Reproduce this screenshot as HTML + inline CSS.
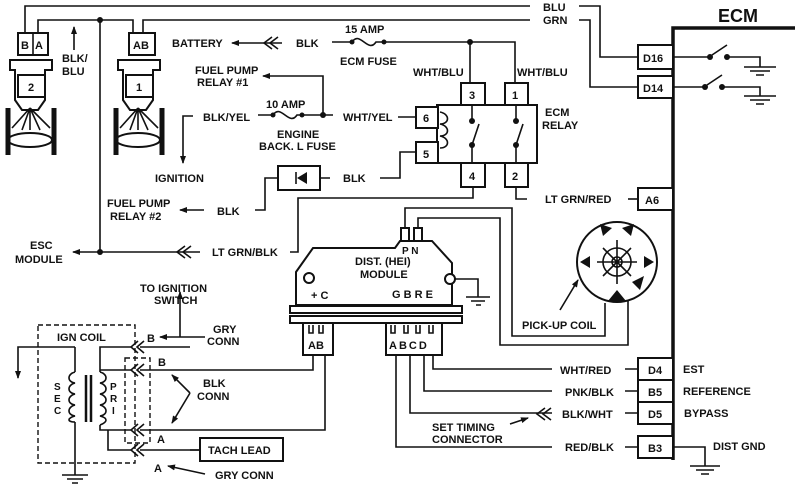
<!DOCTYPE html>
<html><head><meta charset="utf-8"><style>
html,body{margin:0;padding:0;background:#fff}
svg{display:block}
text{font-family:"Liberation Sans",sans-serif;font-weight:bold;font-size:11px;fill:#111}
.w{fill:none;stroke:#111;stroke-width:1.6}
.b{fill:#fff;stroke:#111;stroke-width:2}
.d{fill:none;stroke:#111;stroke-width:1.4;stroke-dasharray:5 3}
</style></head><body>
<svg width="800" height="490" viewBox="0 0 800 490" xmlns="http://www.w3.org/2000/svg">
<defs>
<marker id="ar" markerWidth="8" markerHeight="8" refX="7" refY="4" orient="auto" markerUnits="userSpaceOnUse"><path d="M0,1 L8,4 L0,7 Z" fill="#111"/></marker>
</defs>
<!-- top wires -->
<path class="w" d="M25,33 V6 H530 M579,6 H600 V57 H638"/>
<path class="w" d="M38,33 V20 H133 V33 M143,33 V20 H530 M579,20 H590 V87 H638"/>
<circle cx="100" cy="20" r="3" fill="#111"/>
<path class="w" d="M100,20 V252"/>
<text x="543" y="11">BLU</text><text x="543" y="24">GRN</text>
<!-- ECM -->
<path d="M673,460 V28 H795" fill="none" stroke="#111" stroke-width="3.5"/>
<text x="718" y="22" style="font-size:18px">ECM</text>
<rect class="b" x="638" y="45" width="35" height="24"/><text x="643" y="62">D16</text>
<rect class="b" x="638" y="76" width="35" height="22"/><text x="643" y="92">D14</text>
<path class="w" d="M673,57 H710 M712,55 L727,45 M727,57 H760 V67 M744,67 H776 M750,71 H770 M756,75 H764"/>
<circle cx="710" cy="57" r="3" fill="#111"/><circle cx="727" cy="57" r="3" fill="#111"/>
<path class="w" d="M673,87 H705 M707,85 L722,75 M722,87 H760 V96 M744,96 H776 M750,100 H770 M756,104 H764"/>
<circle cx="705" cy="87" r="3" fill="#111"/><circle cx="722" cy="87" r="3" fill="#111"/>
<!-- injectors -->
<g>
<rect class="b" x="18" y="33" width="30" height="22"/><path class="w" d="M33,33 V55"/>
<text x="21" y="49">B</text><text x="35" y="49">A</text>
<path class="b" d="M10,60 H52 V70 H45 V100 L38,110 H22 L15,100 V70 H10 Z"/>
<rect class="b" x="18" y="75" width="27" height="22"/><text x="28" y="91">2</text>
<path class="w" d="M30,108 L12,128 M30,108 L50,128 M30,108 L30,130 M30,108 L22,130 M30,108 L40,130"/>
<ellipse class="b" cx="30" cy="140" rx="22" ry="7"/>
<path d="M8,108 V155 M54,108 V155" stroke="#111" stroke-width="5"/>
</g>
<g transform="translate(105,0)">
<rect class="b" x="24" y="33" width="26" height="22"/><text x="28" y="49">AB</text>
<path class="b" d="M13,60 H55 V70 H48 V100 L41,110 H25 L18,100 V70 H13 Z"/>
<rect class="b" x="21" y="75" width="27" height="22"/><text x="31" y="91">1</text>
<path class="w" d="M33,108 L15,128 M33,108 L53,128 M33,108 L33,130 M33,108 L25,130 M33,108 L43,130"/>
<ellipse class="b" cx="33" cy="140" rx="22" ry="7"/>
<path d="M11,108 V155 M57,108 V155" stroke="#111" stroke-width="5"/>
</g>
<path class="w" d="M74,50 V27" marker-end="url(#ar)"/>
<text x="62" y="62">BLK/</text><text x="62" y="75">BLU</text>
<!-- battery / ecm fuse -->
<text x="172" y="47">BATTERY</text>
<path class="w" d="M282,43 H232" marker-end="url(#ar)"/>
<path class="w" d="M272,37 L264,43 L272,49 M278,37 L270,43 L278,49"/>
<text x="296" y="47">BLK</text>
<path class="w" d="M332,42 H352 C360,30 368,54 376,42 H470 H515 V83"/>
<circle cx="352" cy="42" r="2.5" fill="#111"/><circle cx="384" cy="42" r="2.5" fill="#111"/>
<circle cx="470" cy="42" r="3" fill="#111"/>
<path class="w" d="M470,42 V83"/>
<text x="345" y="33">15 AMP</text><text x="340" y="65">ECM FUSE</text>
<text x="413" y="76">WHT/BLU</text><text x="517" y="76">WHT/BLU</text>
<!-- relay -->
<rect class="b" x="437" y="105" width="100" height="58"/>
<rect class="b" x="461" y="83" width="24" height="22"/><text x="469" y="99">3</text>
<rect class="b" x="505" y="83" width="23" height="22"/><text x="512" y="99">1</text>
<rect class="b" x="416" y="107" width="22" height="21"/><text x="423" y="122">6</text>
<rect class="b" x="416" y="142" width="22" height="21"/><text x="423" y="158">5</text>
<rect class="b" x="461" y="163" width="24" height="24"/><text x="469" y="180">4</text>
<rect class="b" x="505" y="163" width="23" height="24"/><text x="512" y="180">2</text>
<path class="w" d="M440,112 C450,114 450,124 440,124 C450,126 450,136 440,136 C450,138 450,148 440,148"/>
<path class="w" d="M472,105 V121 M472,146 V163 M472,145 L479,124 M516,105 V121 M516,146 V163 M516,145 L523,124"/>
<circle cx="472" cy="121" r="3" fill="#111"/><circle cx="472" cy="145" r="3" fill="#111"/>
<circle cx="516" cy="121" r="3" fill="#111"/><circle cx="516" cy="145" r="3" fill="#111"/>
<text x="545" y="116">ECM</text><text x="542" y="129">RELAY</text>
<!-- fuel pump relay 1 / engine fuse -->
<text x="195" y="74">FUEL PUMP</text><text x="197" y="86">RELAY #1</text>
<path class="w" d="M323,115 V76 H263" marker-end="url(#ar)"/>
<text x="266" y="108">10 AMP</text>
<path class="w" d="M258,115 H273 C281,103 289,127 297,115 H323 H333"/>
<circle cx="273" cy="115" r="2.5" fill="#111"/><circle cx="302" cy="115" r="2.5" fill="#111"/><circle cx="323" cy="115" r="3" fill="#111"/>
<text x="203" y="121">BLK/YEL</text>
<text x="343" y="121">WHT/YEL</text>
<path class="w" d="M398,117 H416"/>
<text x="277" y="138">ENGINE</text><text x="259" y="150">BACK. L FUSE</text>
<path class="w" d="M193,116 H183 V163" marker-end="url(#ar)"/>
<text x="155" y="182">IGNITION</text>
<!-- diode -->
<path class="w" d="M416,152 H400 V178 H380"/>
<text x="343" y="182">BLK</text>
<rect class="b" x="278" y="166" width="42" height="24"/>
<path class="w" d="M320,178 H330 M278,178 H265 V210 H255"/>
<path d="M307,172 V184 L297,178 Z" fill="#111"/><path class="w" d="M296,172 V184"/>
<text x="217" y="215">BLK</text>
<path class="w" d="M204,210 H180" marker-end="url(#ar)"/>
<text x="107" y="207">FUEL PUMP</text><text x="110" y="220">RELAY #2</text>
<!-- pin 4 / pin 2 -->
<path class="w" d="M473,187 V198 H298 V252 H290"/>
<path class="w" d="M516,187 V199 H527"/>
<text x="545" y="203">LT GRN/RED</text>
<path class="w" d="M628,199 H638"/>
<rect class="b" x="638" y="188" width="35" height="22"/><text x="645" y="204">A6</text>
<!-- LT GRN/BLK -->
<text x="212" y="256">LT GRN/BLK</text>
<path class="w" d="M200,252 H100 H73" marker-end="url(#ar)"/>
<path class="w" d="M185,246 L177,252 L185,258 M191,246 L183,252 L191,258"/>
<circle cx="100" cy="252" r="3" fill="#111"/>
<text x="30" y="249">ESC</text><text x="15" y="263">MODULE</text>
<!-- HEI module -->
<path class="w" d="M405,228 V208 H512 V336 H605 V303"/>
<path class="w" d="M418,228 V218 H500 V345 H628 V296"/>
<path class="b" d="M296,305 V272 L313,248 H395 L400,241 H432 L452,263 V305 Z"/>
<rect class="b" x="401" y="228" width="8" height="13"/><rect class="b" x="414" y="228" width="8" height="13"/>
<text x="402" y="254" style="font-size:10px">P N</text>
<text x="355" y="265">DIST. (HEI)</text><text x="360" y="278">MODULE</text>
<circle class="b" cx="309" cy="278" r="5"/><circle class="b" cx="450" cy="279" r="5"/>
<path class="w" d="M455,279 H478 V297 M466,297 H490 M471,301 H485 M476,305 H481"/>
<text x="311" y="299">+ C</text><text x="392" y="298">G B R E</text>
<rect class="b" x="290" y="306" width="172" height="7"/>
<rect class="b" x="290" y="316" width="172" height="7"/>
<rect class="b" x="303" y="323" width="30" height="32"/><text x="308" y="349">AB</text>
<rect class="b" x="386" y="323" width="56" height="32"/><text x="389" y="349" style="letter-spacing:2px">ABCD</text>
<path class="w" d="M309,325 v8 h4 v-8 M319,325 v8 h4 v-8 M391,325 v8 h4 v-8 M404,325 v8 h4 v-8 M416,325 v8 h4 v-8 M429,325 v8 h4 v-8"/>
<!-- pickup coil -->
<circle class="b" cx="617" cy="262" r="40" stroke-width="2.5"/>
<path d="M600,224 L612,228 L603,236 Z M634,224 L622,228 L631,236 Z M580,262 L590,256 L590,268 Z M654,262 L644,256 L644,268 Z M608,301 L626,301 L617,290 Z M640,290 L644,276 L632,282 Z" fill="#111"/>
<circle class="w" cx="617" cy="262" r="14"/><circle class="w" cx="617" cy="262" r="5"/>
<path class="w" d="M617,240 V284 M597,262 H637 M603,248 L631,276 M631,248 L603,276"/>
<text x="522" y="329">PICK-UP COIL</text>
<path class="w" d="M560,310 L578,280" marker-end="url(#ar)"/>
<!-- ABCD wires to ECM -->
<path class="w" d="M433,355 V369 H552 M424,355 V391 H552 M410,355 V413 H552 M396,355 V447 H552"/>
<path class="w" d="M545,408 L537,414 L545,420 M551,408 L543,414 L551,420"/>
<text x="560" y="374">WHT/RED</text><text x="565" y="396">PNK/BLK</text>
<text x="562" y="418">BLK/WHT</text><text x="565" y="451">RED/BLK</text>
<path class="w" d="M625,369 H638 M625,391 H638 M625,413 H638 M625,447 H638"/>
<rect class="b" x="638" y="358" width="35" height="22"/><text x="648" y="374">D4</text>
<rect class="b" x="638" y="380" width="35" height="22"/><text x="648" y="396">B5</text>
<rect class="b" x="638" y="402" width="35" height="22"/><text x="648" y="418">D5</text>
<rect class="b" x="638" y="436" width="35" height="22"/><text x="648" y="452">B3</text>
<text x="683" y="373">EST</text><text x="683" y="395">REFERENCE</text><text x="684" y="417">BYPASS</text>
<text x="713" y="450">DIST GND</text>
<path class="w" d="M673,447 H705 V466 M690,466 H720 M696,470 H714 M701,474 H709"/>
<text x="432" y="431">SET TIMING</text><text x="432" y="443">CONNECTOR</text>
<path class="w" d="M510,424 L528,418" marker-end="url(#ar)"/>
<!-- ign coil -->
<rect class="d" x="38" y="325" width="97" height="138"/>
<rect class="d" x="125" y="358" width="25" height="85"/>
<text x="57" y="341">IGN COIL</text>
<path class="w" d="M313,355 V370 H140 M325,355 V430 H140"/>
<path class="w" d="M190,347 H140 M190,450 H200"/>
<rect class="b" x="200" y="438" width="83" height="23"/><text x="208" y="454">TACH LEAD</text>
<path class="w" d="M138,341 L131,347 L138,353 M144,341 L137,347 L144,353"/>
<path class="w" d="M138,364 L131,370 L138,376 M144,364 L137,370 L144,376"/>
<path class="w" d="M138,424 L131,430 L138,436 M144,424 L137,430 L144,436"/>
<path class="w" d="M138,444 L131,450 L138,456 M144,444 L137,450 L144,456"/>
<path class="w" d="M131,347 H100 V372 M131,370 H100 M100,425 V430 H131 M108,430 V450 H131 M140,450 H200"/>
<path class="w" d="M100,372 c8,2 8,10 0,11 c8,2 8,10 0,11 c8,2 8,10 0,11 c8,2 8,10 0,11 c8,2 8,6 0,9"/>
<path d="M86,375 V422 M91,375 V422" stroke="#111" stroke-width="2.5"/>
<path class="w" d="M75,347 H18 V378" marker-end="url(#ar)"/>
<path class="w" d="M75,347 V372 M75,422 V475 M62,475 H88 M67,479 H83 M72,483 H78"/>
<path class="w" d="M75,372 c-8,2 -8,10 0,11 c-8,2 -8,10 0,11 c-8,2 -8,10 0,11 c-8,2 -8,10 0,11 c-8,2 -8,6 0,6"/>
<text x="54" y="390" style="font-size:10px">S</text><text x="54" y="402" style="font-size:10px">E</text><text x="54" y="414" style="font-size:10px">C</text>
<text x="110" y="390" style="font-size:10px">P</text><text x="110" y="402" style="font-size:10px">R</text><text x="112" y="414" style="font-size:10px">I</text>
<text x="147" y="342">B</text><text x="158" y="366">B</text><text x="157" y="443">A</text>
<text x="154" y="472">A</text>
<path class="w" d="M205,337 H160" marker-end="url(#ar)"/>
<path class="w" d="M180,337 V292" marker-end="url(#ar)"/>
<text x="140" y="292">TO IGNITION</text><text x="154" y="304">SWITCH</text>
<text x="213" y="333">GRY</text><text x="207" y="345">CONN</text>
<text x="203" y="387">BLK</text><text x="197" y="400">CONN</text>
<path class="w" d="M190,393 L172,375" marker-end="url(#ar)"/>
<path class="w" d="M190,393 L172,423" marker-end="url(#ar)"/>
<text x="215" y="479">GRY CONN</text>
<path class="w" d="M205,474 L168,466" marker-end="url(#ar)"/>
</svg>
</body></html>
